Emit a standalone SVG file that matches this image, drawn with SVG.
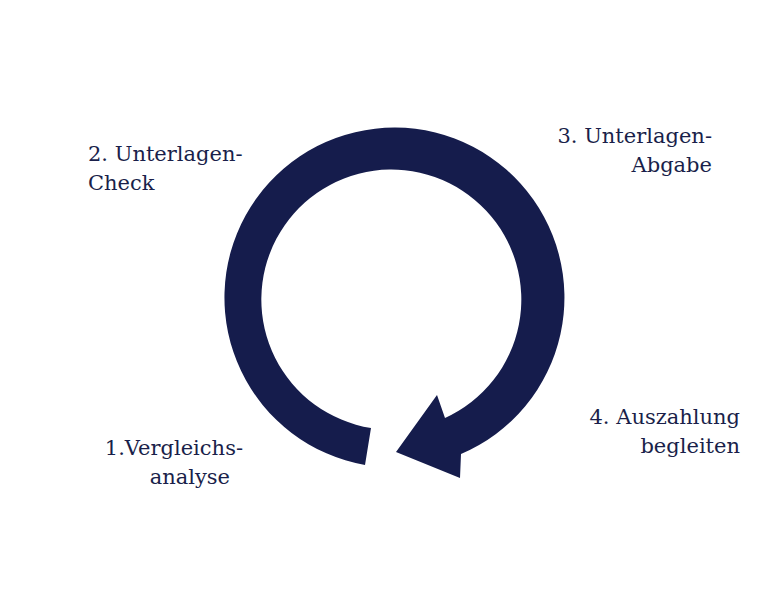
<svg xmlns="http://www.w3.org/2000/svg" width="782" height="609" viewBox="0 0 782 609">
<style>
text{font-family:"DejaVu Serif","Liberation Serif",serif;font-size:21px;fill:#1a1f4a;font-weight:300}
.e{text-anchor:end}
</style>
<rect width="782" height="609" fill="#fff"/>
<g id="connectors">
<path id="cycle" fill="#151c4c" d="M365,465 A170,170 0 1 1 461,454 L460,478 L396,452 L437,395 L445,418 A130,130 0 1 0 371,428 Z"/>
</g>
<g id="n1"><text class="e" x="243" y="455">1.Vergleichs-</text><text class="e" x="230" y="484">analyse</text></g>
<g id="n2"><text x="88" y="161">2. Unterlagen-</text><text x="88" y="190">Check</text></g>
<g id="n3"><text class="e" x="712" y="143">3. Unterlagen-</text><text class="e" x="712" y="172">Abgabe</text></g>
<g id="n4"><text class="e" x="740" y="424">4. Auszahlung</text><text class="e" x="740" y="453">begleiten</text></g>
</svg>
